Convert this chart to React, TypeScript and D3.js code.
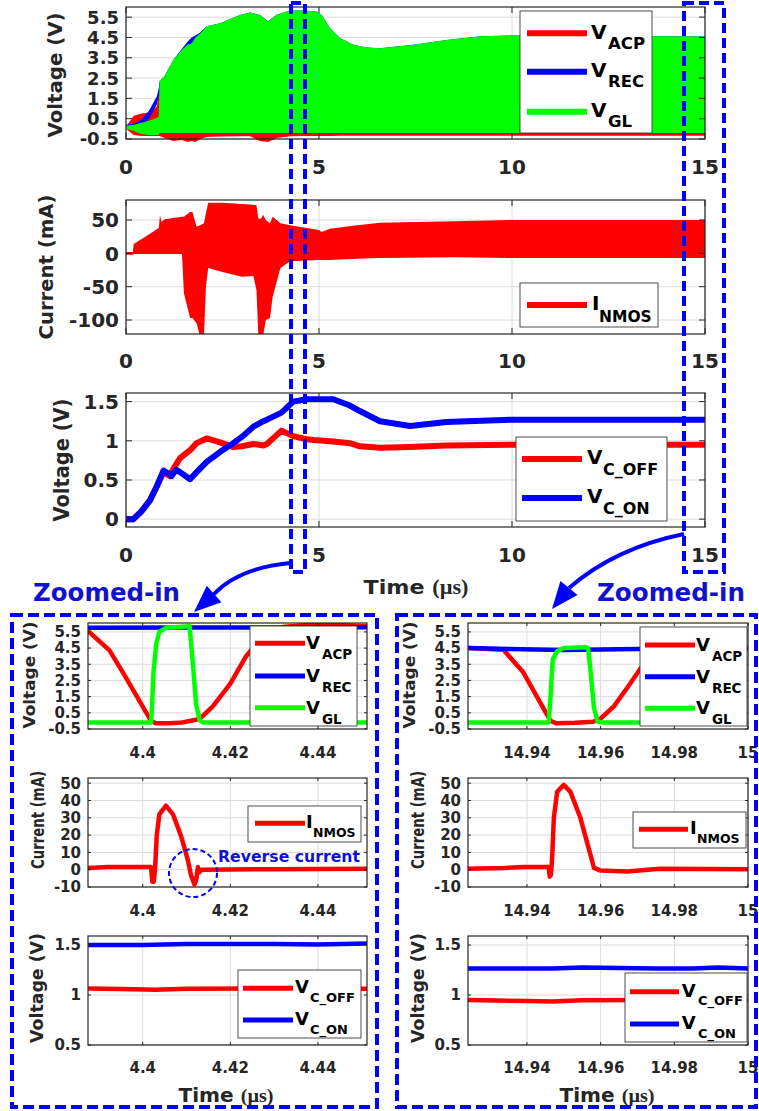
import React from 'react'
import * as d3 from 'd3'

// overview 0-15 us, switching waveforms drawn as envelopes (hi / lo)
const envT = [0, 0.2, 0.4, 0.6, 0.8, 0.85, 0.87, 1.0, 1.23, 1.45, 1.6, 1.7, 1.8, 1.92, 2.09, 2.44, 2.95, 3.21, 3.47, 3.68, 3.9, 4.25, 4.6, 4.94, 5.07, 5.28, 5.54, 5.89, 6.24, 6.58, 7.5, 8.3, 9.2, 10, 12, 14, 15]
const acpHi = [0.1, 0.65, 0.75, 0.8, 1.1, 1.8, 2.2, 2.5, 3.3, 3.8, 4.1, 4.3, 4.5, 4.6, 4.95, 5.1, 5.5, 5.6, 5.5, 5.2, 5.5, 5.7, 5.7, 5.7, 5.5, 4.9, 4.4, 4.1, 3.95, 3.9, 4.1, 4.3, 4.5, 4.55, 4.55, 4.5, 4.5]
const acpLo = [0, -0.3, -0.35, -0.35, -0.35, -0.35, -0.35, -0.45, -0.6, -0.55, -0.65, -0.6, -0.65, -0.5, -0.4, -0.38, -0.36, -0.36, -0.6, -0.65, -0.45, -0.36, -0.35, -0.35, -0.35, -0.35, -0.34, -0.34, -0.34, -0.34, -0.34, -0.34, -0.34, -0.34, -0.34, -0.34, -0.34]
const recHi = [0.2, 0.25, 0.45, 0.9, 1.6, 2.0, 2.35, 2.6, 3.4, 3.95, 4.3, 4.5, 4.6, 4.75, 5.05, 5.2, 5.6, 5.73, 5.6, 5.3, 5.62, 5.83, 5.83, 5.78, 5.6, 4.96, 4.47, 4.14, 4.0, 3.97, 4.15, 4.38, 4.56, 4.6, 4.58, 4.56, 4.55]
const recLo = [0.1, 0.1, 0.15, 0.5, 1.2, 1.6, 1.9, 2.2, 3.0, 3.5, 3.8, 4.0, 4.2, 4.4, 4.7, 4.9, 5.3, 5.4, 5.3, 5.0, 5.3, 5.5, 5.5, 5.5, 5.3, 4.7, 4.2, 3.9, 3.8, 3.7, 3.9, 4.1, 4.3, 4.3, 4.3, 4.3, 4.3]
const glHi = [0.15, 0.2, 0.3, 0.4, 0.55, 0.6, 2.35, 2.6, 3.4, 3.9, 4.15, 4.2, 4.5, 4.7, 5.05, 5.2, 5.6, 5.73, 5.6, 5.28, 5.62, 5.83, 5.83, 5.78, 5.6, 4.96, 4.47, 4.14, 4.0, 3.97, 4.15, 4.38, 4.56, 4.6, 4.58, 4.56, 4.55]
const glLo = [0, -0.1, -0.25, -0.3, -0.3, -0.3, -0.2, -0.2, -0.2, -0.2, -0.2, -0.2, -0.2, -0.2, -0.2, -0.2, -0.2, -0.2, -0.2, -0.2, -0.2, -0.2, -0.2, -0.2, -0.2, -0.2, -0.2, -0.2, -0.2, -0.2, -0.2, -0.2, -0.2, -0.2, -0.2, -0.2, -0.2]

const iT = [0, 0.18, 0.2, 0.5, 0.85, 0.88, 0.92, 1.0, 1.45, 1.5, 1.66, 1.72, 1.83, 1.92, 2.02, 2.07, 2.13, 2.5, 3.0, 3.3, 3.38, 3.43, 3.5, 3.55, 3.62, 3.73, 3.8, 4.0, 4.25, 5.0, 5.07, 5.28, 6.0, 6.58, 8.5, 10, 15]
const iHi = [2, 2, 14, 25, 38, 57, 47, 51, 55, 55, 62, 62, 40, 42, 45, 60, 76, 76, 74, 73, 72, 52, 52, 58, 50, 45, 55, 45, 42, 35, 32, 37, 42, 46, 48, 50, 50]
const iLo = [-2, -2, -1, -1, -1, -1, -1, -1, -1, -60, -97, -97, -105, -125, -125, -50, -22, -28, -35, -34, -55, -125, -125, -125, -100, -97, -65, -22, -12, -10, -10, -10, -8, -7, -6, -7, -7]

const cT = [0, 0.19, 0.4, 0.62, 0.8, 0.97, 1.14, 1.18, 1.3, 1.4, 1.66, 1.83, 2.09, 2.44, 2.78, 3.0, 3.3, 3.56, 3.65, 4.03, 4.33, 4.68, 4.86, 5.37, 5.8, 6.06, 6.58, 7.36, 8.3, 10, 12, 15]
const cOn = [0, 0, 0.1, 0.24, 0.42, 0.62, 0.57, 0.55, 0.63, 0.6, 0.51, 0.6, 0.73, 0.86, 0.97, 1.05, 1.18, 1.25, 1.27, 1.36, 1.5, 1.53, 1.53, 1.53, 1.45, 1.38, 1.25, 1.19, 1.24, 1.27, 1.27, 1.27]
const cOff = [0, 0, 0.1, 0.24, 0.42, 0.6, 0.55, 0.6, 0.7, 0.78, 0.88, 0.97, 1.03, 0.98, 0.92, 0.93, 0.96, 0.94, 0.96, 1.13, 1.06, 1.02, 1.01, 0.99, 0.97, 0.93, 0.91, 0.92, 0.94, 0.95, 0.95, 0.95]

// zoom around 4.4 us
const zlAcpT = [4.3875, 4.3924, 4.396, 4.4, 4.4019, 4.403, 4.406, 4.409, 4.413, 4.416, 4.42, 4.4236, 4.428, 4.432, 4.436, 4.442, 4.4512]
const zlAcpV = [5.56, 4.36, 2.75, 0.88, 0.0, -0.15, -0.15, -0.1, 0.12, 0.9, 2.3, 4.0, 5.4, 5.8, 5.9, 5.95, 5.85]
const zlRecT = [4.3875, 4.41, 4.43, 4.4512]
const zlRecV = [5.75, 5.77, 5.77, 5.78]
const zlGlT = [4.3875, 4.4019, 4.4021, 4.40245, 4.4031, 4.4038, 4.4053, 4.4107, 4.4113, 4.4122, 4.413, 4.4137, 4.4512]
const zlGlV = [-0.1, -0.1, 0.8, 3.0, 4.8, 5.5, 5.75, 5.85, 4.0, 1.0, 0.05, -0.1, -0.1]
const zlIT = [4.3875, 4.392, 4.4019, 4.4022, 4.4025, 4.4028, 4.4032, 4.4038, 4.4053, 4.4069, 4.4088, 4.4103, 4.411, 4.4118, 4.4122, 4.4126, 4.4129, 4.4135, 4.43, 4.4512]
const zlIV = [1, 1.5, 1.5, -7, -7, 0, 20, 32, 37, 32, 19, 5.5, -3, -8.5, -6, 1.5, -1.5, 0, 0.3, 0.5]
const zlOnT = [4.3875, 4.4, 4.41, 4.43, 4.44, 4.4512]
const zlOnV = [1.5, 1.5, 1.51, 1.51, 1.505, 1.515]
const zlOffT = [4.3875, 4.395, 4.403, 4.41, 4.43, 4.4512]
const zlOffV = [1.065, 1.06, 1.052, 1.062, 1.065, 1.063]

// zoom around 14.95 us
const zrAcpT = [14.924, 14.9336, 14.939, 14.9464, 14.948, 14.953, 14.958, 14.96, 14.9636, 14.968, 14.971, 14.975, 14.98, 14.99, 15]
const zrAcpV = [4.5, 4.4, 3.0, 0.0, -0.15, -0.12, -0.05, 0.15, 0.9, 2.3, 3.3, 4.2, 4.5, 4.5, 4.5]
const zrRecT = [14.924, 14.935, 14.95, 14.97, 15]
const zrRecV = [4.5, 4.45, 4.38, 4.45, 4.45]
const zrGlT = [14.924, 14.9459, 14.9464, 14.947, 14.9482, 14.95, 14.956, 14.9566, 14.9573, 14.9582, 14.9592, 14.9605, 15]
const zrGlV = [-0.1, -0.1, 1.5, 3.8, 4.3, 4.5, 4.55, 4.5, 3.0, 0.8, -0.05, -0.1, -0.1]
const zrIT = [14.924, 14.934, 14.939, 14.9459, 14.9462, 14.9465, 14.9468, 14.9473, 14.9482, 14.95, 14.9518, 14.9545, 14.9568, 14.9582, 14.96, 14.9673, 14.976, 15]
const zrIV = [0.5, 1, 1.5, 1.5, -4, -3, 5, 30, 45, 49, 45, 30, 12, 1, -0.5, -1, 0.5, 0.3]
const zrOnT = [14.924, 14.94, 14.947, 14.955, 14.965, 14.975, 14.985, 14.992, 15]
const zrOnV = [1.265, 1.265, 1.265, 1.275, 1.27, 1.265, 1.265, 1.275, 1.265]
const zrOffT = [14.924, 14.94, 14.947, 14.955, 14.97, 15]
const zrOffV = [0.95, 0.94, 0.935, 0.948, 0.95, 0.95]

const vTicks = [-0.5, 0.5, 1.5, 2.5, 3.5, 4.5, 5.5]
const iTicksMain = [-100, -50, 0, 50]
const cTicksMain = [0, 0.5, 1, 1.5]
const tTicksMain = [0, 5, 10, 15]
const iTicksZoom = [-10, 0, 10, 20, 30, 40, 50]
const cTicksZoom = [0.5, 1, 1.5]
const tTicksL = [4.4, 4.42, 4.44]
const tTicksR = [14.94, 14.96, 14.98, 15]

const vNames = [['V', 'ACP'], ['V', 'REC'], ['V', 'GL']]
const iNames = [['I', 'NMOS']]
const cNames = [['V', 'C_OFF'], ['V', 'C_ON']]

const RED = '#ff0000'
const BLUE = '#0000ff'
const GREEN = '#00ff00'
const INK = '#262626'
const GRID = '#dcdcdc'
const NOTE = '#1212cc'
const SANS = "'DejaVu Sans', 'Liberation Sans', sans-serif"

type Box = { l: number; r: number; t: number; b: number }
type Sc = d3.ScaleLinear<number, number>

function Panel({ id, box, xd, yd, xt, yt, fs, yfs, tk, xdy, clipPad = 0, draw }: any) {
  const x = d3.scaleLinear().domain(xd).range([box.l, box.r])
  const y = d3.scaleLinear().domain(yd).range([box.b, box.t])
  const w = box.r - box.l
  const h = box.b - box.t
  return (
    <g>
      <defs>
        <clipPath id={id}>
          <rect x={box.l} y={box.t} width={w} height={h + clipPad} />
        </clipPath>
      </defs>
      <rect x={box.l} y={box.t} width={w} height={h} fill="#fff" />
      {xt.map((v: number) => <line key={'gx' + v} x1={x(v)} x2={x(v)} y1={box.t} y2={box.b} stroke={GRID} />)}
      {yt.map((v: number) => <line key={'gy' + v} x1={box.l} x2={box.r} y1={y(v)} y2={y(v)} stroke={GRID} />)}
      <g clipPath={`url(#${id})`}>{draw(x, y)}</g>
      <rect x={box.l} y={box.t} width={w} height={h} fill="none" stroke={INK} strokeWidth={1.2} />
      {xt.map((v: number) => (
        <g key={'tx' + v}>
          <line x1={x(v)} x2={x(v)} y1={box.b} y2={box.b - tk} stroke={INK} />
          <line x1={x(v)} x2={x(v)} y1={box.t} y2={box.t + tk} stroke={INK} />
          <text x={x(v)} y={box.b + xdy} textAnchor="middle" fontSize={fs} fontWeight="bold" fill={INK}>{String(v)}</text>
        </g>
      ))}
      {yt.map((v: number) => (
        <g key={'ty' + v}>
          <line x1={box.l} x2={box.l + tk} y1={y(v)} y2={y(v)} stroke={INK} />
          <line x1={box.r} x2={box.r - tk} y1={y(v)} y2={y(v)} stroke={INK} />
          <text x={box.l - 7} y={y(v)} dy="0.36em" textAnchor="end" fontSize={yfs || fs} fontWeight="bold" fill={INK}>{String(v)}</text>
        </g>
      ))}
    </g>
  )
}

function Legend({ box, names, colors, ys, lx0, lx1, tx, sx, fm, fsub, dm, ds, lw }: any) {
  return (
    <g>
      <rect x={box.l} y={box.t} width={box.r - box.l} height={box.b - box.t} fill="#fff" stroke="#3a3a3a" strokeWidth={0.9} />
      {names.map((n: string[], i: number) => (
        <g key={i}>
          <line x1={lx0} x2={lx1} y1={ys[i]} y2={ys[i]} stroke={colors[i]} strokeWidth={lw} />
          <text x={tx} y={ys[i] + dm} fontSize={fm} fontWeight="bold" fill="#000">{n[0]}</text>
          <text x={sx} y={ys[i] + ds} fontSize={fsub} fontWeight="bold" fill="#000">{n[1]}</text>
        </g>
      ))}
    </g>
  )
}

function YLabel({ cx, cy, len, fs, children }: any) {
  return (
    <text transform={`translate(${cx},${cy}) rotate(-90)`} textAnchor="middle" dominantBaseline="central"
      fontSize={fs} fontWeight="bold" fill={INK} textLength={len} lengthAdjust="spacingAndGlyphs">{children}</text>
  )
}

function TimeLabel({ cx, y, len, fs }: any) {
  return (
    <text x={cx} y={y} textAnchor="middle" fontSize={fs} fontWeight="bold" fill={INK} textLength={len} lengthAdjust="spacingAndGlyphs">
      Time <tspan fontFamily="'Liberation Serif', serif">(µs)</tspan>
    </text>
  )
}

const band = (ts: number[], lo: number[], hi: number[], x: Sc, y: Sc) =>
  d3.area<number>().x((_, i) => x(ts[i])).y0((_, i) => y(lo[i])).y1((_, i) => y(hi[i]))(ts) as string

const trace = (ts: number[], vs: number[], x: Sc, y: Sc) =>
  d3.line<number>().x((_, i) => x(ts[i])).y((v) => y(v))(vs) as string

function Arrow({ d, tip, dir, len = 27, half = 11 }: any) {
  const n = Math.hypot(dir[0], dir[1])
  const ux = dir[0] / n
  const uy = dir[1] / n
  const bx = tip[0] - ux * len
  const by = tip[1] - uy * len
  const pts = [[tip[0], tip[1]], [bx - uy * half, by + ux * half], [bx + uy * half, by - ux * half]]
  return (
    <g>
      <path d={d} fill="none" stroke={BLUE} strokeWidth={4} />
      <polygon points={pts.map((p) => p.join(',')).join(' ')} fill={BLUE} />
    </g>
  )
}

export default function App() {
  const boxA: Box = { l: 126, r: 705, t: 7, b: 139 }
  const boxB: Box = { l: 126, r: 705, t: 200, b: 334 }
  const boxC: Box = { l: 126, r: 705, t: 393, b: 527 }
  const zl = { l: 88, r: 367 }
  const zr = { l: 468, r: 748 }
  const rows = [{ t: 623, b: 729 }, { t: 778, b: 887 }, { t: 936, b: 1045 }]
  const zlD = [4.3875, 4.4512]
  const zrD = [14.924, 15]
  const zVd = [-0.5, 6.05]
  const zId = [-10, 53]
  const zCd = [0.5, 1.59]
  const lwZ = 4.5

  const zoomVolt = (ts: any) => (x: Sc, y: Sc) => (
    <g fill="none" strokeWidth={lwZ} strokeLinejoin="round">
      <path d={trace(ts.acpT, ts.acpV, x, y)} stroke={RED} />
      <path d={trace(ts.recT, ts.recV, x, y)} stroke={BLUE} />
      <path d={trace(ts.glT, ts.glV, x, y)} stroke={GREEN} />
    </g>
  )

  return (
    <svg width={759} height={1111} style={{ position: 'absolute', left: 0, top: 0, background: '#fff' }} fontFamily={SANS}>
      <rect x={0} y={0} width={759} height={1111} fill="#fff" />

      {/* overview: voltages */}
      <Panel id="cA" box={boxA} xd={[0, 15]} yd={[-0.5, 6]} xt={tTicksMain} yt={vTicks} fs={20} yfs={18} tk={6} xdy={35} clipPad={4}
        draw={(x: Sc, y: Sc) => (
          <g>
            <path d={band(envT, acpLo, acpHi, x, y)} fill={RED} />
            <path d={band(envT, recLo, recHi, x, y)} fill={BLUE} />
            <path d={band(envT, glLo, glHi, x, y)} fill={GREEN} />
          </g>
        )} />
      <Legend box={{ l: 520, r: 652, t: 11, b: 133 }} names={vNames} colors={[RED, BLUE, GREEN]} ys={[33.3, 71.7, 111.7]}
        lx0={527} lx1={587} tx={591} sx={608} fm={20} fsub={16.5} dm={5.5} ds={15.5} lw={6} />
      <YLabel cx={55} cy={75} len={125} fs={20}>Voltage (V)</YLabel>

      {/* overview: current */}
      <Panel id="cB" box={boxB} xd={[0, 15]} yd={[-121, 80]} xt={tTicksMain} yt={iTicksMain} fs={20} tk={6} xdy={34}
        draw={(x: Sc, y: Sc) => <path d={band(iT, iLo, iHi, x, y)} fill={RED} />} />
      <Legend box={{ l: 520, r: 658, t: 283, b: 327 }} names={iNames} colors={[RED]} ys={[305]}
        lx0={527} lx1={587} tx={592} sx={599} fm={20} fsub={15.5} dm={4.5} ds={16.7} lw={6} />
      <YLabel cx={46} cy={267} len={145} fs={20}>Current (mA)</YLabel>

      {/* overview: control voltages */}
      <Panel id="cC" box={boxC} xd={[0, 15]} yd={[-0.1, 1.61]} xt={tTicksMain} yt={cTicksMain} fs={20} tk={6} xdy={35}
        draw={(x: Sc, y: Sc) => (
          <g fill="none" strokeWidth={6} strokeLinejoin="round">
            <path d={trace(cT, cOff, x, y)} stroke={RED} />
            <path d={trace(cT, cOn, x, y)} stroke={BLUE} />
          </g>
        )} />
      <Legend box={{ l: 516, r: 667, t: 437, b: 521 }} names={cNames} colors={[RED, BLUE]} ys={[459, 498]}
        lx0={522} lx1={582} tx={587} sx={603} fm={20} fsub={16} dm={4.5} ds={16} lw={6} />
      <YLabel cx={62} cy={460} len={123} fs={21}>Voltage (V)</YLabel>
      <TimeLabel cx={416} y={594} len={105} fs={20} />

      {/* zoom 4.4 us */}
      <Panel id="l1" box={{ ...zl, ...rows[0] }} xd={zlD} yd={zVd} xt={tTicksL} yt={vTicks} fs={15} tk={3} xdy={29}
        draw={zoomVolt({ acpT: zlAcpT, acpV: zlAcpV, recT: zlRecT, recV: zlRecV, glT: zlGlT, glV: zlGlV })} />
      <Legend box={{ l: 250, r: 357, t: 626, b: 726 }} names={vNames} colors={[RED, BLUE, GREEN]} ys={[643.3, 676, 707.7]}
        lx0={255} lx1={305} tx={306} sx={322} fm={18} fsub={13.5} dm={6} ds={16} lw={5} />
      <YLabel cx={29} cy={675} len={107} fs={16}>Voltage (V)</YLabel>

      <Panel id="l2" box={{ ...zl, ...rows[1] }} xd={zlD} yd={zId} xt={tTicksL} yt={iTicksZoom} fs={15} tk={3} xdy={29}
        draw={(x: Sc, y: Sc) => <path d={trace(zlIT, zlIV, x, y)} fill="none" stroke={RED} strokeWidth={lwZ} strokeLinejoin="round" />} />
      <Legend box={{ l: 248, r: 361, t: 806, b: 842 }} names={iNames} colors={[RED]} ys={[823.3]}
        lx0={255} lx1={305} tx={306} sx={313} fm={18} fsub={12.5} dm={5} ds={14} lw={5} />
      <YLabel cx={37} cy={820} len={98} fs={18}>Current (mA)</YLabel>
      <circle cx={193} cy={873} r={24} fill="none" stroke={BLUE} strokeWidth={2} strokeDasharray="5 3" />
      <text x={218} y={862} fontSize={15} fontWeight="bold" fill={NOTE} textLength={142} lengthAdjust="spacingAndGlyphs">Reverse current</text>

      <Panel id="l3" box={{ ...zl, ...rows[2] }} xd={zlD} yd={zCd} xt={tTicksL} yt={cTicksZoom} fs={15} tk={3} xdy={28}
        draw={(x: Sc, y: Sc) => (
          <g fill="none" strokeWidth={lwZ}>
            <path d={trace(zlOffT, zlOffV, x, y)} stroke={RED} />
            <path d={trace(zlOnT, zlOnV, x, y)} stroke={BLUE} />
          </g>
        )} />
      <Legend box={{ l: 238, r: 361, t: 970, b: 1038 }} names={cNames} colors={[RED, BLUE]} ys={[988.3, 1020]}
        lx0={243} lx1={293} tx={295} sx={310} fm={18} fsub={13} dm={5} ds={13.5} lw={5} />
      <YLabel cx={37} cy={988} len={110} fs={17}>Voltage (V)</YLabel>
      <TimeLabel cx={226} y={1102} len={95} fs={19} />

      {/* zoom 14.95 us */}
      <Panel id="r1" box={{ ...zr, ...rows[0] }} xd={zrD} yd={zVd} xt={tTicksR} yt={vTicks} fs={15} tk={3} xdy={29}
        draw={zoomVolt({ acpT: zrAcpT, acpV: zrAcpV, recT: zrRecT, recV: zrRecV, glT: zrGlT, glV: zrGlV })} />
      <Legend box={{ l: 640, r: 747, t: 627, b: 726 }} names={vNames} colors={[RED, BLUE, GREEN]} ys={[645, 676.7, 708.3]}
        lx0={645} lx1={695} tx={696} sx={712} fm={18} fsub={13.5} dm={6} ds={16} lw={5} />
      <YLabel cx={409} cy={675} len={107} fs={16}>Voltage (V)</YLabel>

      <Panel id="r2" box={{ ...zr, ...rows[1] }} xd={zrD} yd={zId} xt={tTicksR} yt={iTicksZoom} fs={15} tk={3} xdy={29}
        draw={(x: Sc, y: Sc) => <path d={trace(zrIT, zrIV, x, y)} fill="none" stroke={RED} strokeWidth={lwZ} strokeLinejoin="round" />} />
      <Legend box={{ l: 633, r: 746, t: 812, b: 848 }} names={iNames} colors={[RED]} ys={[829.3]}
        lx0={639} lx1={688} tx={690} sx={697} fm={18} fsub={12.5} dm={5} ds={14} lw={5} />
      <YLabel cx={417} cy={820} len={98} fs={18}>Current (mA)</YLabel>

      <Panel id="r3" box={{ ...zr, ...rows[2] }} xd={zrD} yd={zCd} xt={tTicksR} yt={cTicksZoom} fs={15} tk={3} xdy={28}
        draw={(x: Sc, y: Sc) => (
          <g fill="none" strokeWidth={lwZ}>
            <path d={trace(zrOffT, zrOffV, x, y)} stroke={RED} />
            <path d={trace(zrOnT, zrOnV, x, y)} stroke={BLUE} />
          </g>
        )} />
      <Legend box={{ l: 625, r: 747, t: 973, b: 1042 }} names={cNames} colors={[RED, BLUE]} ys={[991.7, 1024]}
        lx0={630} lx1={679} tx={681.7} sx={698} fm={18} fsub={13} dm={5} ds={13.5} lw={5} />
      <YLabel cx={417.5} cy={988} len={110} fs={17}>Voltage (V)</YLabel>
      <TimeLabel cx={607} y={1102} len={95} fs={19} />

      {/* zoom markers */}
      <g fill="none" stroke={BLUE} strokeWidth={4} strokeDasharray="10 5">
        <rect x={291} y={3} width={14} height={569} />
        <rect x={684} y={3} width={40} height={569} />
        <rect x={12} y={615} width={365} height={492} strokeDasharray="11 5" />
        <rect x={397} y={615} width={359} height={492} strokeDasharray="11 5" />
      </g>
      <Arrow d="M290,563 Q238,568 213,595" tip={[194, 612]} dir={[-19, 17]} />
      <Arrow d="M684,534 Q615,548 569,588" tip={[552, 609]} dir={[-17, 21]} />
      <text x={33} y={601} fontSize={24} fontWeight="bold" fill={NOTE} textLength={147} lengthAdjust="spacingAndGlyphs">Zoomed-in</text>
      <text x={597} y={601} fontSize={24} fontWeight="bold" fill={NOTE} textLength={148} lengthAdjust="spacingAndGlyphs">Zoomed-in</text>
    </svg>
  )
}
